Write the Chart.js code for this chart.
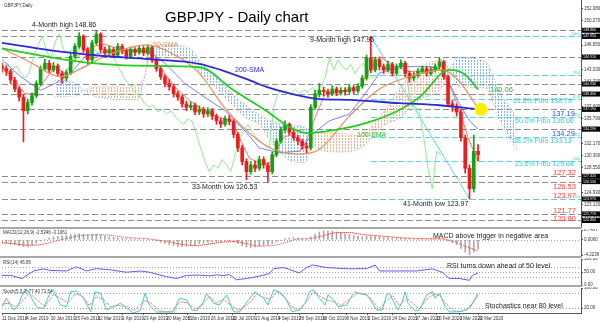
<!DOCTYPE html>
<html>
<head>
<meta charset="utf-8">
<title>GBPJPY - Daily chart</title>
<script src="https://cdn.jsdelivr.net/npm/chart.js@4.4.1/dist/chart.umd.min.js"></script>
<style>
  html, body { margin: 0; padding: 0; background: #fff; }
  #wrap { position: relative; width: 600px; height: 323px; overflow: hidden; background: #fff; }
  #wrap canvas { position: absolute; left: 0; }
  .sep { position: absolute; left: 0; width: 582px; height: 2px; background: #a8a8a8; }
</style>
</head>
<body>
<div id="wrap">
  <canvas id="mainChart" width="600" height="228" style="top:0px"></canvas>
  <canvas id="macdChart" width="600" height="27" style="top:229px"></canvas>
  <canvas id="rsiChart" width="600" height="28" style="top:258px"></canvas>
  <canvas id="stochChart" width="600" height="36" style="top:287px"></canvas>
  <div class="sep" style="top:227px"></div>
  <div class="sep" style="top:256px"></div>
  <div class="sep" style="top:285px"></div>
</div>
<script>
// x axis counts daily bars from 11 Dec 2018, one candle drawn every 3 bars
var X_MIN = 0, X_MAX = 405;
var CANDLE_STEP = 3;

var firstOpen = 143.6;
var closes = [
  143.2,142.8,141.5,140.2,139.0,137.0,138.2,139.2,141.0,143.2,
  144.0,143.0,143.6,142.5,141.8,142.6,145.0,146.5,148.0,146.0,
  144.5,147.0,148.3,146.0,145.5,146.0,145.2,146.5,145.8,145.0,
  146.0,145.6,146.2,145.5,146.3,144.5,143.2,142.0,141.0,140.5,
  139.5,139.0,138.0,137.5,137.8,136.8,137.2,136.5,137.0,136.2,
  135.5,135.0,135.8,135.4,133.5,131.5,129.5,128.0,129.0,128.5,
  129.8,129.0,128.0,130.5,132.5,134.2,135.0,133.8,133.0,132.5,
  131.8,131.5,137.5,139.5,140.0,139.8,139.5,140.2,139.6,140.0,
  139.8,140.4,139.9,140.6,141.8,144.8,143.0,144.5,143.5,143.0,
  143.8,142.5,143.5,144.0,142.5,141.8,142.2,142.8,143.2,142.5,
  143.0,143.5,144.2,142.0,138.0,137.6,136.8,133.0,128.5,125.5,
  131.0,130.5];
var highs = [
  144.0,143.6,143.1,141.9,140.5,139.4,138.7,139.6,141.4,143.6,
  144.6,144.4,144.1,143.9,142.8,143.0,145.4,146.9,148.5,148.2,
  146.3,147.4,148.86,148.5,146.4,146.5,146.3,146.9,146.8,146.1,
  146.4,146.3,146.6,146.5,146.7,146.5,144.8,143.5,142.3,141.6,
  140.9,139.9,139.3,138.4,138.3,138.1,137.7,137.5,137.4,137.3,
  136.5,135.9,136.2,136.3,135.7,133.8,131.9,129.9,129.5,129.6,
  130.3,130.2,129.3,130.9,132.9,134.6,135.5,135.2,134.1,133.4,
  132.8,132.2,137.9,140.0,141.0,140.5,140.2,140.7,140.5,140.4,
  140.4,140.8,140.7,141.0,142.2,145.2,147.95,144.9,144.8,143.9,
  144.3,144.1,143.9,144.5,144.3,142.8,142.6,143.2,143.6,143.5,
  143.4,143.9,144.8,144.4,142.3,138.5,138.0,137.2,133.4,129.0,
  133.4,132.0];
var lows = [
  142.7,142.2,141.0,139.8,138.4,132.4,136.5,137.8,138.9,140.7,
  142.9,142.6,142.7,142.1,141.0,141.4,142.3,144.7,146.2,145.6,
  143.8,144.2,146.7,145.6,145.0,145.1,144.8,144.9,145.4,144.6,
  144.7,145.1,145.3,145.1,145.2,144.1,142.8,141.6,140.5,140.0,
  139.0,138.5,137.5,137.0,137.1,136.4,136.4,136.0,136.1,135.7,
  135.0,134.5,134.7,134.9,133.0,131.0,129.0,126.8,127.6,128.0,
  128.2,128.5,126.53,127.7,130.2,132.2,133.8,133.4,132.6,132.0,
  131.3,130.8,131.2,137.2,139.0,139.2,139.0,139.2,139.2,139.3,
  139.3,139.5,139.5,139.6,140.3,141.5,142.6,142.7,143.0,142.5,
  142.7,142.1,142.2,143.2,142.0,141.2,141.4,141.9,142.5,142.1,
  142.2,142.7,143.2,141.6,137.6,136.9,136.2,132.5,127.8,123.97,
  125.0,129.6];

// moving averages
var sma50Idx = [0,20,41,55,76,101,121,138,157,185,208,222,243,264,285,308,320,333];
var sma50 = [146.2,144.1,142.0,143.2,145.4,146.7,145.2,142.5,137.1,131.8,130.6,131.3,136.2,140.2,142.0,143.0,141.3,137.3];
var sma100Idx = [0,45,69,103,138,162,184,201,213,231,255,278,292,313,324,333];
var sma100 = [146.2,144.5,143.9,143.6,143.4,140.0,137.1,134.6,133.7,134.1,135.2,137.1,139.0,143.0,142.3,140.1];
var sma200Idx = [0,34,69,103,138,173,185,208,222,243,278,306,333];
var sma200 = [147.0,145.9,145.1,144.6,143.9,141.5,140.5,139.2,138.7,138.6,138.1,137.8,137.2];

// ichimoku
var tenkanIdx = [0,9,16,23,30,37,44,51,58,65,72,83,93,103,110,121,131,142,152,161,166,173,182,189,196,203,212,219,226,240,250,257,264,275,285,296,306,313,320,326,333];
var tenkan = [143.5,141.5,139.5,139.5,141.5,143.5,142.5,144.5,146.0,146.5,146.8,146.0,145.8,145.5,143.5,140.5,138.5,137.0,136.0,135.5,133.0,130.0,129.0,129.5,133.0,133.5,132.0,136.0,139.5,140.0,140.5,143.0,145.0,143.5,142.8,142.8,143.2,141.0,137.0,133.0,129.5];
var kijunIdx = [0,13,27,37,48,58,69,90,103,114,128,138,156,170,180,194,208,217,229,243,254,264,278,299,306,311,320,327,333];
var kijun = [144.5,142.0,140.0,141.0,142.5,145.0,145.5,146.0,145.7,144.0,141.0,139.5,137.0,134.0,131.5,130.8,131.0,133.5,135.5,136.5,139.5,142.5,143.5,143.5,143.2,141.8,138.0,135.5,134.3];
var CHIKOU_SHIFT = 26;
var cloudIdx = [37,53,57,69,95,100,103,117,131,138,152,169,180,187,201,212,217,222,236,248,268,278,292,308,313,320,338,348,360];
var spanA = [139.0,139.3,140.0,140.6,140.8,142.3,144.5,144.8,144.2,142.7,139.8,136.1,134.9,132.7,129.7,129.3,132.7,133.7,133.7,133.4,137.1,140.3,143.3,144.5,143.0,140.5,140.3,135.6,131.2];
var spanB = [141.5,140.9,140.0,138.9,138.6,142.3,146.4,146.7,146.2,144.5,141.5,138.1,136.4,135.6,134.9,134.6,132.7,131.2,130.9,131.2,134.9,135.9,138.6,140.5,143.0,144.9,144.2,139.8,136.1];

// horizontal levels and fibonacci retracement
var levels = [148.86,147.95,144.91,140.93,139.45,137.19,134.29,127.32,126.53,123.97,121.77,120.80];
var fibLevels = [147.95,142.29,138.79,136.00,133.13,129.64,123.97];
var fibNames = ['100.0','76.4','61.8','50.0','38.2','23.6','0.0'];
var fibHighIdx = 258, fibLowIdx = 327;
var markerIdx = 335, markerValue = 137.19;

// oscillators
var macdHist = [
  -1.0,-1.1,-1.2,-1.4,-1.6,-1.9,-1.8,-1.5,-0.9,-0.3,
  0.2,0.5,0.8,1.0,1.1,1.2,1.4,1.6,1.7,1.6,
  1.4,1.5,1.6,1.4,1.1,0.9,0.7,0.6,0.5,0.4,
  0.4,0.3,0.3,0.2,0.2,0.0,-0.3,-0.7,-1.0,-1.3,
  -1.6,-1.8,-1.9,-1.8,-1.6,-1.4,-1.1,-0.9,-0.7,-0.6,
  -0.5,-0.5,-0.3,-0.3,-0.6,-1.1,-1.6,-2.0,-2.1,-2.0,
  -1.8,-1.6,-1.5,-1.1,-0.6,-0.1,0.3,0.5,0.6,0.5,
  0.3,0.1,0.8,1.6,2.2,2.5,2.5,2.4,2.2,2.0,
  1.7,1.5,1.2,1.0,0.9,1.1,1.2,1.1,0.9,0.8,
  0.7,0.6,0.5,0.5,0.4,0.3,0.2,0.2,0.3,0.3,
  0.3,0.3,0.4,0.3,-0.2,-0.8,-1.4,-2.4,-3.4,-4.2,-3.4,-2.5];
var SIGNAL_STEP = 9;
var macdSignal = [-0.8,-1.1,-1.5,-1.3,-0.5,0.4,1.1,1.4,1.4,1.0,0.6,0.4,0.0,-0.6,-1.3,-1.6,-1.2,-0.7,-0.5,-1.1,-1.7,-1.6,-0.8,0.2,0.4,1.2,2.0,2.0,1.5,1.2,0.9,0.6,0.4,0.3,0.3,-0.3,-1.8,-3.1];
var rsiIdx = [0,6,14,22,29,34,45,52,59,66,76,87,97,103,115,122,129,138,145,150,155,159,164,171,180,187,190,197,201,208,213,217,227,243,255,261,264,278,290,301,308,313,320,327,329,333];
var rsiVal = [37,37,25,54,62,56,54,70,54,63,58,49,54,49,32,25,37,38,35,39,36,40,20,25,34,44,63,67,60,46,67,77,67,62,63,77,54,54,54,62,49,25,25,18,37,45.85];
var stochKIdx = [0,3,6,8,11,15,18,22,25,29,34,36,41,45,48,52,57,62,65,69,73,78,83,87,92,97,100,103,108,115,120,124,129,133,136,141,143,148,152,157,162,166,172,177,183,186,190,194,199,203,208,212,215,218,222,226,228,232,235,241,245,247,249,255,257,262,266,269,271,275,277,280,282,284,289,292,297,301,303,306,310,313,320,325,329,333];
var stochK = [25,59,32,12,25,85,92,45,21,19,85,92,32,25,85,88,59,5,85,79,12,25,39,19,0,12,79,32,4,4,4,59,52,12,8,45,79,39,32,72,5,4,49,85,59,32,92,85,52,5,12,39,85,92,59,32,72,52,25,32,72,85,79,72,59,12,12,72,79,32,12,45,85,39,8,12,72,85,59,79,25,4,5,12,39,77.4];
var stochDIdx = [0,5,9,14,19,24,30,36,42,46,51,56,61,66,71,76,81,88,93,99,104,110,118,125,130,135,140,145,150,155,160,166,173,178,184,188,192,197,202,207,213,218,223,228,233,237,243,249,255,259,264,269,273,278,283,287,292,297,302,306,311,316,322,328,333];
var stochD = [35,40,25,45,80,55,25,75,55,40,75,70,30,65,55,25,30,25,10,50,40,8,5,45,40,15,30,65,40,55,30,10,40,75,60,55,85,70,30,10,45,85,65,50,45,30,55,80,75,50,15,50,70,30,60,40,15,55,75,70,35,8,8,25,71.5];

var tickIdx = [0,17,34,51,67,84,99,115,130,146,161,177,193,208,224,241,256,273,289,304,320,333];
var dateLabels = ['11 Dec 2018','4 Jan 2019','30 Jan 2019','25 Feb 2019','12 Mar 2019','1 Apr 2019','23 Apr 2019','20 May 2019','5 Jun 2019','26 Jun 2019','22 Jul 2019','13 Aug 2019','4 Sep 2019','26 Sep 2019','18 Oct 2019','8 Nov 2019','2 Dec 2019','24 Dec 2019','17 Jan 2020','10 Feb 2020','3 Mar 2020','22 Mar 2020'];
var mainTicks = [152.08,150.27,148.46,146.65,144.84,143.03,141.22,139.41,137.60,135.79,133.98,132.17,130.36,128.55,126.74,124.93,123.12,121.31];

var FONT = '"Liberation Sans", Arial, sans-serif';
var AXIS_W = 19;

var opens = closes.map(function (c, i) { return i === 0 ? firstOpen : closes[i - 1]; });
var candleX = closes.map(function (c, i) { return i * CANDLE_STEP; });
var candleColor = closes.map(function (c, i) { return c >= opens[i] ? '#12a312' : '#f01c1c'; });

function pts(xs, ys) {
  return xs.map(function (x, i) { return { x: x, y: ys[i] }; });
}

function lineDs(label, xs, ys, color, width, extra) {
  var ds = {
    type: 'line', label: label, data: pts(xs, ys),
    borderColor: color, borderWidth: width, pointRadius: 0,
    cubicInterpolationMode: 'monotone', fill: false
  };
  for (var k in extra) ds[k] = extra[k];
  return ds;
}

function hatch(color) {
  var c = document.createElement('canvas');
  c.width = 3; c.height = 3;
  var g = c.getContext('2d');
  g.fillStyle = color;
  g.fillRect(0, 0, 1, 2);
  return g.createPattern(c, 'repeat');
}

function rightAxis(min, max, vals, digits) {
  return {
    position: 'right', min: min, max: max,
    afterFit: function (s) { s.width = AXIS_W; s.paddingTop = 0; s.paddingBottom = 0; },
    afterBuildTicks: function (s) { s.ticks = vals.map(function (v) { return { value: v }; }); },
    ticks: {
      font: { size: 4.5, family: FONT }, color: '#333', padding: 1,
      callback: function (v) { return Number(v).toFixed(digits); }
    },
    grid: { drawOnChartArea: false, tickLength: 2, color: '#555' },
    border: { color: '#555', width: 1 }
  };
}

function xAxis(show) {
  return {
    type: 'linear', min: X_MIN, max: X_MAX, offset: false, display: show,
    afterFit: function (s) { if (show) s.height = 10; s.paddingLeft = 0; s.paddingRight = 0; },
    afterBuildTicks: function (s) { s.ticks = tickIdx.map(function (v) { return { value: v }; }); },
    ticks: {
      autoSkip: false, maxRotation: 0, align: 'start', padding: 1,
      font: { size: 4.5, family: FONT }, color: '#333',
      callback: function (v) { var i = tickIdx.indexOf(v); return i >= 0 ? dateLabels[i] : ''; }
    },
    grid: { display: show, drawOnChartArea: false, tickLength: 2, color: '#555', offset: false },
    border: { display: show, color: '#555' }
  };
}

function baseOptions(yAxis, showX, padTop, padBottom) {
  return {
    responsive: false, animation: false, events: [],
    layout: { autoPadding: false, padding: { left: 2, right: 0, top: padTop, bottom: padBottom } },
    plugins: { legend: { display: false }, tooltip: { enabled: false } },
    scales: { x: xAxis(showX), y: yAxis }
  };
}

// free text drawn on top of a panel
function notes(items) {
  return {
    id: 'notes',
    afterDraw: function (chart) {
      var ctx = chart.ctx;
      items.forEach(function (n) {
        ctx.save();
        ctx.font = (n.bold ? 'bold ' : '') + n.size + 'px ' + FONT;
        ctx.fillStyle = n.color;
        ctx.textAlign = 'left';
        ctx.textBaseline = 'alphabetic';
        ctx.fillText(n.t, n.x, n.y);
        ctx.restore();
      });
    }
  };
}

function dotLines(vals) {
  return {
    id: 'dotLines',
    beforeDatasetsDraw: function (chart) {
      var ctx = chart.ctx, a = chart.chartArea, y = chart.scales.y;
      ctx.save();
      ctx.strokeStyle = '#a0a0a0'; ctx.lineWidth = 1; ctx.setLineDash([1, 2]);
      vals.forEach(function (v) {
        var py = Math.round(y.getPixelForValue(v)) + 0.5;
        ctx.beginPath(); ctx.moveTo(a.left, py); ctx.lineTo(a.right, py); ctx.stroke();
      });
      ctx.restore();
    }
  };
}

var mainLevels = {
  id: 'mainLevels',
  beforeDatasetsDraw: function (chart) {
    var ctx = chart.ctx, a = chart.chartArea, y = chart.scales.y, x = chart.scales.x;
    ctx.save();
    ctx.lineWidth = 1;
    ctx.setLineDash([6, 3]);
    ctx.strokeStyle = '#8c8c8c';
    levels.forEach(function (v) {
      var py = Math.round(y.getPixelForValue(v)) + 0.5;
      ctx.beginPath(); ctx.moveTo(a.left, py); ctx.lineTo(a.right, py); ctx.stroke();
    });
    ctx.strokeStyle = '#52d2e4';
    var fx = x.getPixelForValue(fibHighIdx);
    fibLevels.forEach(function (v) {
      var py = Math.round(y.getPixelForValue(v)) + 0.5;
      ctx.beginPath(); ctx.moveTo(fx, py); ctx.lineTo(a.right, py); ctx.stroke();
    });
    ctx.restore();
  },
  afterDraw: function (chart) {
    var ctx = chart.ctx, a = chart.chartArea, y = chart.scales.y;
    ctx.save();
    ctx.font = '3.6px ' + FONT;
    ctx.textBaseline = 'middle';
    levels.forEach(function (v) {
      var py = y.getPixelForValue(v);
      ctx.fillStyle = '#000';
      ctx.fillRect(a.right + 1, py - 2.5, 18, 5);
      ctx.fillStyle = '#fff';
      ctx.fillText(v.toFixed(3), a.right + 2, py);
    });
    ctx.fillStyle = '#3cc6d8';
    ctx.textAlign = 'right';
    ctx.textBaseline = 'alphabetic';
    fibLevels.forEach(function (v, i) {
      ctx.fillText(fibNames[i], a.right - 1, y.getPixelForValue(v) - 1);
    });
    ctx.restore();
  }
};

var peachHatch = hatch('#f3b088');
var blueHatch = hatch('#86b4ee');

new Chart(document.getElementById('mainChart'), {
  type: 'bar',
  data: {
    datasets: [
      { type: 'scatter', label: 'marker', data: [{ x: markerIdx, y: markerValue }],
        pointRadius: 6.5, pointBackgroundColor: '#ffee00', pointBorderWidth: 0, order: 0 },
      lineDs('200-SMA', sma200Idx, sma200, '#2a2ad6', 1.8, { order: 1 }),
      lineDs('100-SMA', sma100Idx, sma100, '#1fcf1f', 1.8, { order: 1 }),
      lineDs('50-SMA', sma50Idx, sma50, '#e3915a', 1.2, { order: 1 }),
      { type: 'bar', label: 'bodies', grouped: false, barThickness: 3, minBarLength: 1, order: 2,
        backgroundColor: candleColor,
        data: candleX.map(function (x, i) { return { x: x, y: [opens[i], closes[i]] }; }) },
      { type: 'bar', label: 'wicks', grouped: false, barThickness: 1, order: 3,
        backgroundColor: candleColor,
        data: candleX.map(function (x, i) { return { x: x, y: [lows[i], highs[i]] }; }) },
      lineDs('Tenkan', tenkanIdx, tenkan, 'rgba(255,70,70,0.75)', 1, { order: 4, cubicInterpolationMode: 'default', tension: 0 }),
      lineDs('Kijun', kijunIdx, kijun, 'rgba(95,95,255,0.8)', 1, { order: 4, cubicInterpolationMode: 'default', tension: 0 }),
      lineDs('Chikou', candleX.map(function (x) { return x - CHIKOU_SHIFT; }), closes, '#92e892', 1,
        { order: 5, cubicInterpolationMode: 'default', tension: 0 }),
      lineDs('Fibo', [fibHighIdx, fibLowIdx], [fibLevels[0], fibLevels[fibLevels.length - 1]], '#5ad6e6', 1,
        { order: 5, cubicInterpolationMode: 'default', tension: 0 }),
      lineDs('Span A', cloudIdx, spanA, 'rgba(238,165,120,0.9)', 1,
        { order: 6, borderDash: [1, 2], fill: { target: '+1', above: peachHatch, below: blueHatch } }),
      lineDs('Span B', cloudIdx, spanB, 'rgba(120,165,235,0.9)', 1, { order: 6, borderDash: [1, 2] })
    ]
  },
  options: baseOptions(rightAxis(119.84, 153.32, mainTicks, 3), false, 0, 1),
  plugins: [mainLevels, notes([
    { t: 'GBPJPY,Daily', x: 4, y: 7, size: 4.5, color: '#333' },
    { t: 'GBPJPY - Daily chart', x: 165, y: 21.5, size: 15, color: '#000' },
    { t: '4-Month high 148.86', x: 32, y: 27, size: 7, color: '#222' },
    { t: '9-Month high 147.95', x: 310, y: 42, size: 7, color: '#222' },
    { t: '50-SMA', x: 153, y: 47, size: 7, color: '#e8955a' },
    { t: '200-SMA', x: 235, y: 72, size: 7, color: '#2a2ad6' },
    { t: '100-SMA', x: 357, y: 137, size: 7, color: '#22c422' },
    { t: '140.06', x: 490, y: 92, size: 7.5, color: '#22c422' },
    { t: '61.8% Fibo 138.79', x: 513, y: 103, size: 7, color: '#36c6d8' },
    { t: '50.0% Fibo 136.00', x: 515, y: 123, size: 7, color: '#36c6d8' },
    { t: '38.2% Fibo 133.13', x: 513, y: 143, size: 7, color: '#36c6d8' },
    { t: '23.6% Fibo 129.64', x: 515, y: 166, size: 7, color: '#36c6d8' },
    { t: '137.19', x: 552, y: 116, size: 7.5, color: '#4848d8' },
    { t: '134.29', x: 552, y: 136, size: 7.5, color: '#4848d8' },
    { t: '127.32', x: 553, y: 175, size: 7.5, color: '#ff3b3b' },
    { t: '126.53', x: 553, y: 189, size: 7.5, color: '#ff3b3b' },
    { t: '123.97', x: 553, y: 198, size: 7.5, color: '#ff3b3b' },
    { t: '121.77', x: 553, y: 213, size: 7.5, color: '#ff3b3b' },
    { t: '120.80', x: 553, y: 221, size: 7.5, color: '#ff3b3b' },
    { t: '41-Month low 123.97', x: 403, y: 206, size: 7, color: '#222' },
    { t: '33-Month low 126.53', x: 192, y: 189, size: 7, color: '#222' }
  ])]
});

new Chart(document.getElementById('macdChart'), {
  type: 'bar',
  data: {
    datasets: [
      lineDs('Signal', macdSignal.map(function (v, i) { return i * SIGNAL_STEP; }), macdSignal, '#ff3030', 1,
        { borderDash: [1, 1], order: 0 }),
      { type: 'bar', label: 'MACD', grouped: false, barThickness: 1, order: 1,
        backgroundColor: '#a9a9a9', data: pts(candleX, macdHist) }
    ]
  },
  options: baseOptions(rightAxis(-4.2236, 2.7437, [2.7437, 0, -4.2236], 4), false, 1, 1),
  plugins: [dotLines([0]), notes([
    { t: 'MACD(12,26,9) -2.5346 -3.1061', x: 3, y: 5, size: 4.5, color: '#333' },
    { t: 'MACD above trigger in negative area', x: 433, y: 8.5, size: 7, color: '#222' }
  ])]
});

new Chart(document.getElementById('rsiChart'), {
  type: 'line',
  data: { datasets: [lineDs('RSI', rsiIdx, rsiVal, '#5c5cff', 1, { cubicInterpolationMode: 'default', tension: 0 })] },
  options: baseOptions(rightAxis(0, 100, [100, 70, 50, 30, 0], 2), false, 1, 1),
  plugins: [dotLines([70, 50, 30]), notes([
    { t: 'RSI(14) 45.85', x: 3, y: 6, size: 4.5, color: '#333' },
    { t: 'RSI turns down ahead of 50 level', x: 447, y: 10, size: 7, color: '#222' }
  ])]
});

new Chart(document.getElementById('stochChart'), {
  type: 'line',
  data: {
    datasets: [
      lineDs('%K', stochKIdx, stochK, '#3ccccc', 1, { cubicInterpolationMode: 'default', tension: 0 }),
      lineDs('%D', stochDIdx, stochD, '#ff4040', 1, { borderDash: [1, 1], cubicInterpolationMode: 'default', tension: 0 })
    ]
  },
  options: baseOptions(rightAxis(0, 100, [100, 80, 20, 0], 2), true, 1, 0),
  plugins: [dotLines([80, 20]), notes([
    { t: 'Stoch(5,3,3) 77.40 71.54', x: 3, y: 6, size: 4.5, color: '#333' },
    { t: 'Stochastics near 80 level', x: 485, y: 21, size: 7, color: '#222' }
  ])]
});
</script>
</body>
</html>
